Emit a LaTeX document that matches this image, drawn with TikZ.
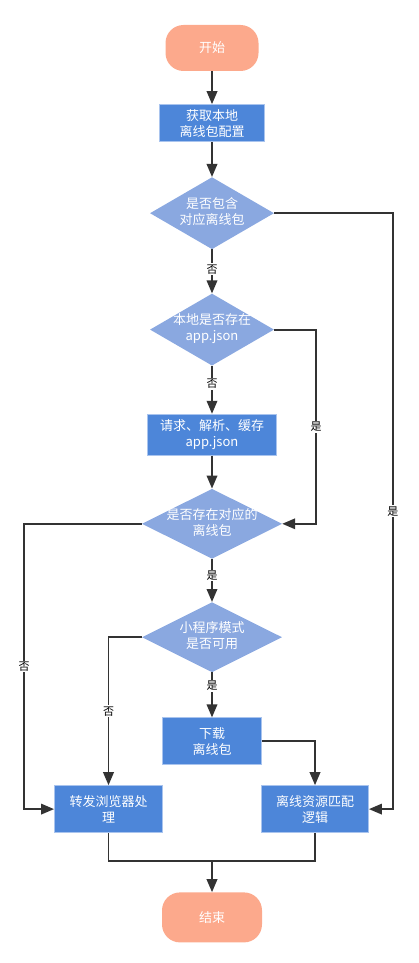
\documentclass[tikz,border=0pt]{standalone}
\usepackage{fontspec}
\setmainfont{Noto Sans CJK SC}
\usetikzlibrary{positioning,shapes.geometric,arrows.meta}
\definecolor{termfill}{HTML}{FCA98C}
\definecolor{stepfill}{HTML}{4D86D9}
\definecolor{stepline}{HTML}{A9C4EE}
\definecolor{askfill}{HTML}{8AA8E0}
\definecolor{flowcol}{HTML}{333333}
\newcommand{\asktext}[1]{\makebox[0pt]{\begin{tabular}{@{}c@{}}#1\end{tabular}}}
\tikzset{
  term/.style={rectangle, rounded corners=18pt, fill=termfill, text=white, font=\fontsize{13}{16}\selectfont},
  stepbox/.style={rectangle, fill=stepfill, draw=stepline, line width=0.8pt, text=white, align=center, inner sep=2pt, font=\fontsize{13}{16}\selectfont},
  ask/.style={diamond, fill=askfill, text=white, inner sep=0pt, aspect=2, font=\fontsize{13}{16}\selectfont},
  flow/.style={draw=flowcol, line width=1.9pt, -{Triangle[length=13pt,width=10.5pt]}},
  flowplain/.style={draw=flowcol, line width=1.9pt},
  lbl/.style={fill=white, inner sep=1pt, text=black, font=\fontsize{11}{12}\selectfont}
}
\begin{document}
\begin{tikzpicture}[x=1pt, y=-1pt]
  \useasboundingbox (0,0) rectangle (418,963);
  \node[term, minimum width=93pt, minimum height=46pt] (start) at (212,48) {开始}; %
  \node[stepbox, minimum width=105pt, minimum height=37pt, below=33pt of start] (get-cfg) {获取本地\\离线包配置}; %
  \node[ask, minimum width=124pt, minimum height=72pt, below=35pt of get-cfg] (has-pkg) {\asktext{是否包含\\对应离线包}}; %
  \node[ask, minimum width=124pt, minimum height=72pt, below=44pt of has-pkg] (has-json) {\asktext{本地是否存在\\app.json}}; %
  \node[stepbox, minimum width=129pt, minimum height=41pt, below=48pt of has-json] (fetch) {请求、解析、缓存\\app.json}; %
  \node[ask, minimum width=140pt, minimum height=70pt, below=33pt of fetch] (pkg-ok) {\asktext{是否存在对应的\\离线包}}; %
  \node[ask, minimum width=140pt, minimum height=70pt, below=43pt of pkg-ok] (mini-ok) {\asktext{小程序模式\\是否可用}}; %
  \node[stepbox, minimum width=99pt, minimum height=47pt, below=45pt of mini-ok] (download) {下载\\离线包}; %
  \node[stepbox, minimum width=108pt, minimum height=47pt, below=20pt of download, xshift=-103.5pt] (browser) {转发浏览器处\\理}; %
  \node[stepbox, minimum width=107pt, minimum height=47pt, below=20pt of download, xshift=103pt] (match) {离线资源匹配\\逻辑}; %
  \node[term, minimum width=100pt, minimum height=50pt, below=127pt of download] (end) {结束}; %

  % bend points of the side routes
  \coordinate[right=24pt of match.east] (yes-far);
  \coordinate[right=34pt of pkg-ok.east] (yes-near);
  \coordinate[left=30pt of browser.west] (no-far);
  \coordinate[above=31pt of end] (join);

  \draw[flow] (start) -- (get-cfg); %
  \draw[flow] (get-cfg) -- (has-pkg); %
  \draw[flow] (has-pkg) -- node[lbl, pos=0.45] {否} (has-json); %
  \draw[flow] (has-json) -- node[lbl, pos=0.38] {否} (fetch); %
  \draw[flow] (fetch) -- (pkg-ok); %
  \draw[flow] (pkg-ok) -- node[lbl, pos=0.38] {是} (mini-ok); %
  \draw[flow] (mini-ok) -- node[lbl, pos=0.3] {是} (download); %
  \draw[flow] (has-pkg.east) -| (yes-far) node[lbl, pos=0.75] {是} -- (match.east); %
  \draw[flow] (has-json.east) -| (yes-near) node[lbl, pos=0.75] {是} -- (pkg-ok.east); %
  \draw[flow] (pkg-ok.west) -| (no-far) node[lbl, pos=0.75] {否} -- (browser.west); %
  \draw[flow] (mini-ok.west) -| node[lbl, pos=0.75] {否} (browser.north); %
  \draw[flow] (download.east) -| (match.north); %
  \draw[flowplain] (browser.south) |- (join); %
  \draw[flowplain] (match.south) |- (join); %
  \draw[flow] (join) -- (end); %
\end{tikzpicture}
\end{document}
